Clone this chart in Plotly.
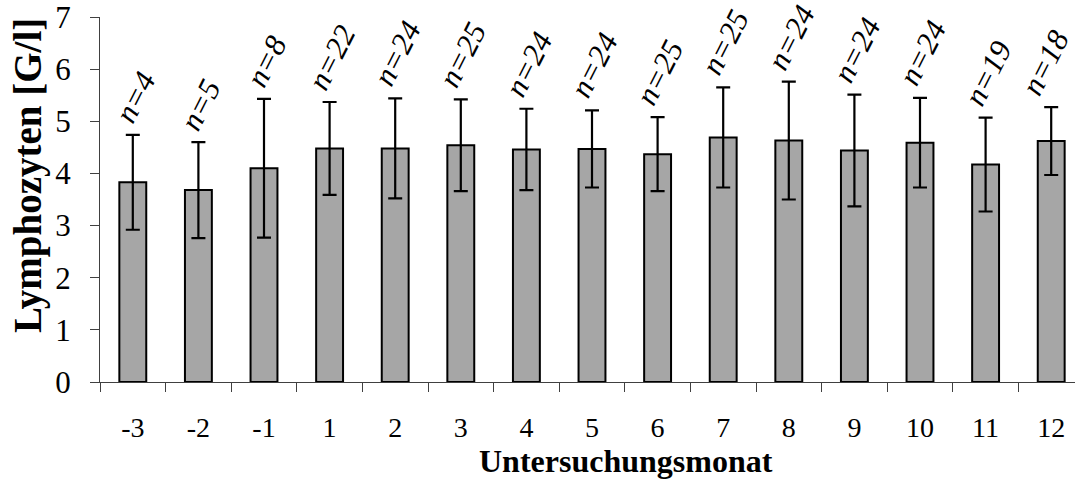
import plotly.graph_objects as go

# Monthly lymphocyte counts (mean ± SD) per study month
months = ["-3", "-2", "-1", "1", "2", "3", "4", "5", "6", "7", "8", "9", "10", "11", "12"]
mean_values = [3.83, 3.68, 4.10, 4.48, 4.48, 4.54, 4.46, 4.47, 4.37, 4.69, 4.63, 4.44, 4.59, 4.17, 4.62]
sd_values = [0.91, 0.92, 1.33, 0.89, 0.96, 0.88, 0.78, 0.74, 0.71, 0.96, 1.13, 1.07, 0.86, 0.90, 0.65]
n_values = [4, 5, 8, 22, 24, 25, 24, 24, 25, 25, 24, 24, 24, 19, 18]

y_ticks = [0, 1, 2, 3, 4, 5, 6, 7]

W, H = 1075, 480
ML, MT, MB = 100, 17, 98
plot_w = W - ML
plot_h = H - MT - MB
cat_px = 65.6  # width of one category in pixels

FONT = "Liberation Serif, Times New Roman, serif"
AXIS_COLOR = "#404040"

fig = go.Figure()

fig.add_trace(go.Bar(
    x=months,
    y=mean_values,
    width=0.41,
    marker=dict(color="#a6a6a6", line=dict(color="black", width=2)),
    error_y=dict(type="data", array=sd_values, visible=True,
                 color="black", thickness=2.2, width=7),
    showlegend=False,
))

annotations = []
# sample size labels above each error bar (category index positions)
last = len(n_values) - 1
for i, (mv, sd, n) in enumerate(zip(mean_values, sd_values, n_values)):
    annotations.append(dict(
        x=i, y=mv + sd, xref="x", yref="y",
        text=f"n={n}", textangle=-63,
        showarrow=False, xanchor="center", yanchor="bottom",
        xshift=-6 if i == last else 2, yshift=4,
        font=dict(family=FONT, size=31, color="black", style="italic"),
    ))

# axis titles placed as annotations
annotations.append(dict(
    x=(626 - ML) / plot_w, y=(MT + plot_h - 461) / plot_h,
    xref="paper", yref="paper", text="<b>Untersuchungsmonat</b>",
    showarrow=False, xanchor="center", yanchor="middle",
    font=dict(family=FONT, size=32, color="black"),
))
annotations.append(dict(
    x=(28 - ML) / plot_w, y=(MT + plot_h - 176) / plot_h,
    xref="paper", yref="paper", text="<b>Lymphozyten [G/l]</b>",
    textangle=-90, showarrow=False, xanchor="center", yanchor="middle",
    font=dict(family=FONT, size=39, color="black"),
))

fig.update_layout(
    width=W, height=H,
    margin=dict(l=ML, r=0, t=MT, b=MB, pad=0),
    paper_bgcolor="white", plot_bgcolor="white",
    font=dict(family=FONT, color="black"),
    annotations=annotations,
    xaxis=dict(
        type="category",
        range=[-0.5, -0.5 + plot_w / cat_px],
        showline=True, linecolor=AXIS_COLOR, linewidth=1,
        ticks="outside", tickson="boundaries", ticklen=9, tickcolor=AXIS_COLOR,
        tickfont=dict(family=FONT, size=28, color="black"),
        ticklabelstandoff=20,
        showgrid=False, zeroline=False, fixedrange=True,
    ),
    yaxis=dict(
        range=[0, 7],
        tickvals=y_ticks,
        showline=True, linecolor=AXIS_COLOR, linewidth=1,
        ticks="outside", ticklen=9, tickcolor=AXIS_COLOR,
        tickfont=dict(family=FONT, size=31, color="black"),
        ticklabelstandoff=13,
        ticklabeloverflow="allow",
        showgrid=False, zeroline=False, fixedrange=True,
    ),
)

fig.write_html("out.html")
